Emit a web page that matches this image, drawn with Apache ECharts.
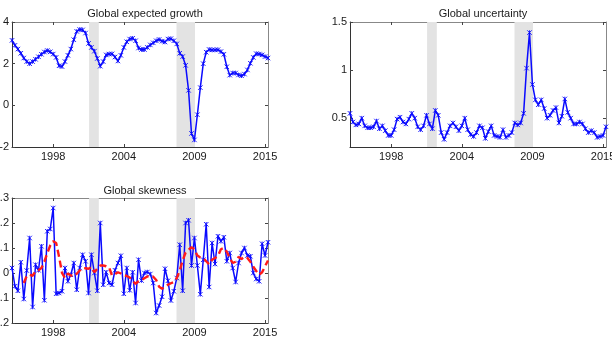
<!DOCTYPE html>
<html>
<head>
<meta charset="UTF-8">
<title></title>
<script src="https://cdn.jsdelivr.net/npm/echarts@6/dist/echarts.min.js"></script>
<style type="text/css">
	html, body { margin: 0; padding: 0; background: #fff; }
	#chart { width: 612px; height: 347px; }
</style>
</head>
<body>
<div id="chart"></div>
<script>
// quarter index on the x axis, labelled ticks as in the original figure
var tickPos = [14, 38, 62, 86];
var tickLabels = ['1998', '2004', '2009', '2015'];
var recessions = [[26.2, 29.5], [55.9, 62.2]];

var growth = [3.12,2.88,2.70,2.50,2.27,2.10,2.00,2.10,2.21,2.33,
	2.45,2.56,2.63,2.57,2.46,2.30,1.90,1.86,2.10,2.40,
	2.70,3.15,3.55,3.64,3.62,3.47,2.97,2.78,2.60,2.25,
	1.88,2.10,2.42,2.46,2.47,2.32,2.13,2.40,2.78,3.05,
	3.18,3.22,3.10,2.75,2.68,2.68,2.78,2.90,3.00,3.10,
	3.16,3.08,3.04,3.18,3.20,3.10,2.95,2.50,2.34,1.92,
	0.72,-1.35,-1.66,-0.45,0.85,2.00,2.55,2.68,2.66,2.66,
	2.67,2.58,2.45,1.85,1.45,1.55,1.55,1.46,1.42,1.50,
	1.70,2.02,2.30,2.48,2.46,2.42,2.34,2.27];

var uncertainty = [0.55,0.46,0.43,0.44,0.50,0.42,0.40,0.40,0.41,0.47,
	0.39,0.42,0.37,0.32,0.32,0.38,0.49,0.51,0.46,0.44,
	0.49,0.55,0.50,0.41,0.38,0.42,0.53,0.44,0.39,0.58,
	0.53,0.35,0.28,0.35,0.42,0.45,0.41,0.37,0.42,0.50,
	0.38,0.33,0.31,0.35,0.42,0.40,0.29,0.36,0.42,0.32,
	0.31,0.30,0.38,0.30,0.32,0.35,0.45,0.43,0.45,0.55,
	1.02,1.39,0.85,0.69,0.64,0.69,0.60,0.50,0.53,0.58,
	0.61,0.45,0.52,0.70,0.56,0.50,0.44,0.44,0.46,0.44,
	0.39,0.35,0.37,0.35,0.30,0.31,0.32,0.41];

var skew = [0.02,-0.053,-0.071,0.043,-0.104,0.01,0.14,-0.136,0.033,0.011,
	0.107,-0.109,0.167,0.176,0.26,-0.083,-0.08,-0.073,0.02,-0.033,
	-0.007,0.04,-0.067,0.02,0.073,0.047,-0.08,0.073,0.0,-0.071,
	0.2,-0.047,0.003,-0.04,-0.047,0.011,0.04,0.069,-0.083,0.02,
	-0.069,0.003,-0.12,0.053,-0.03,0.0,0.004,-0.004,-0.04,-0.16,
	-0.13,-0.095,0.017,-0.031,-0.11,-0.073,-0.02,0.113,-0.071,0.2,
	0.211,0.03,0.14,0.03,-0.085,0.053,0.195,-0.056,0.12,0.036,
	0.147,0.127,0.143,0.047,0.08,0.02,-0.036,0.04,0.08,0.1,
	0.07,0.067,0.0,-0.024,-0.033,0.117,0.07,0.123];

var skewSmooth = [null,null,null,null,-0.04,-0.012,-0.007,-0.011,0.008,0.011,
	0.02,0.045,0.08,0.11,0.127,0.12,0.065,0.0,-0.02,-0.002,
	-0.01,-0.013,-0.003,0.01,0.02,0.019,0.017,0.024,0.003,0.018,
	0.03,0.03,0.027,0.022,-0.01,-0.005,0.003,-0.002,-0.009,-0.012,
	-0.018,-0.032,-0.043,-0.033,-0.028,-0.021,-0.014,-0.011,-0.015,-0.028,
	-0.055,-0.063,-0.056,-0.047,-0.041,-0.036,-0.02,0.01,0.05,0.082,
	0.093,0.103,0.095,0.07,0.062,0.06,0.047,0.035,0.053,0.06,
	0.068,0.095,0.1,0.085,0.06,0.04,0.045,0.064,0.056,0.065,
	0.06,0.045,0.025,0.008,-0.007,0.003,0.027,0.05];

var font = 'Liberation Sans, Arial, sans-serif';
var xMax = growth.length - 1;

var grids = [
	{left: 12, top: 22, width: 256, height: 125, outerBoundsMode: 'none', containLabel: false},
	{left: 350, top: 22, width: 256, height: 125, outerBoundsMode: 'none', containLabel: false},
	{left: 12, top: 198, width: 256, height: 125, outerBoundsMode: 'none', containLabel: false}
];
var titles = ['Global expected growth', 'Global uncertainty', 'Global skewness'];
var yRanges = [
	{min: -2, max: 4, ticks: [-2, 0, 2, 4]},
	{min: 0.2, max: 1.5, ticks: [0.5, 1, 1.5]},
	{min: -0.2, max: 0.3, ticks: [-0.2, -0.1, 0, 0.1, 0.2, 0.3]}
];

function pairs(arr) {
	return arr.map(function (v, i) { return [i, v]; });
}

var xAxes = [], yAxes = [], series = [], titleOpts = [];
grids.forEach(function (g, k) {
	titleOpts.push({
		text: titles[k], left: g.left + g.width / 2, top: k == 2 ? 180 : 3,
		textAlign: 'center',
		textStyle: {fontFamily: font, fontSize: 11, fontWeight: 'normal', color: '#1a1a1a'}
	});
	['bottom', 'top'].forEach(function (pos) {
		xAxes.push({
			type: 'value', gridIndex: k, position: pos, min: 0, max: xMax,
			axisLine: {show: true, onZero: false, lineStyle: {color: pos == 'bottom' ? '#333' : '#888', width: 1}},
			axisTick: {show: true, inside: true, length: 3, customValues: tickPos,
				lineStyle: {color: '#444'}},
			axisLabel: {show: pos == 'bottom', customValues: tickPos, margin: 4,
				fontFamily: font, fontSize: 11, color: '#1a1a1a',
				formatter: function (v) { return tickLabels[tickPos.indexOf(v)]; }},
			splitLine: {show: false}
		});
	});
	['left', 'right'].forEach(function (pos) {
		var r = yRanges[k];
		yAxes.push({
			type: 'value', gridIndex: k, position: pos, min: r.min, max: r.max,
			axisLine: {show: true, onZero: false, lineStyle: {color: pos == 'left' ? '#333' : '#888', width: 1}},
			axisTick: {show: true, inside: true, length: 3, customValues: r.ticks,
				lineStyle: {color: '#444'}},
			axisLabel: {show: pos == 'left', customValues: r.ticks, margin: 3,
				fontFamily: font, fontSize: 11, color: '#1a1a1a',
				formatter: function (v) { return String(Math.round(v * 10) / 10); }},
			splitLine: {show: false}
		});
	});
	// recession shading
	series.push({
		type: 'line', xAxisIndex: 2 * k, yAxisIndex: 2 * k, data: [], z: 1,
		markArea: {silent: true, itemStyle: {color: '#e3e3e3'},
			data: recessions.map(function (r) { return [{xAxis: r[0]}, {xAxis: r[1]}]; })}
	});
});

var star = 'path://M0,0L10,10M10,0L0,10M5,0L5,10';
var panelData = [growth, uncertainty, skew];
panelData.forEach(function (arr, k) {
	series.push({
		type: 'line', xAxisIndex: 2 * k, yAxisIndex: 2 * k, z: 3,
		data: pairs(arr),
		symbol: star, symbolSize: 4.5, showAllSymbol: true,
		itemStyle: {color: '#0a0aff', borderColor: '#0a0aff', borderWidth: 0.9},
		lineStyle: {color: '#0a0aff', width: 1.5}
	});
});
series.push({
	type: 'line', xAxisIndex: 4, yAxisIndex: 4, z: 4,
	data: pairs(skewSmooth), showSymbol: false,
	lineStyle: {color: '#ff1a1a', width: 2.4, type: [7, 4]}
});

var myChart = echarts.init(document.getElementById('chart'));
myChart.setOption({
	animation: false,
	backgroundColor: '#fff',
	title: titleOpts,
	grid: grids,
	xAxis: xAxes,
	yAxis: yAxes,
	series: series
});
</script>
</body>
</html>
